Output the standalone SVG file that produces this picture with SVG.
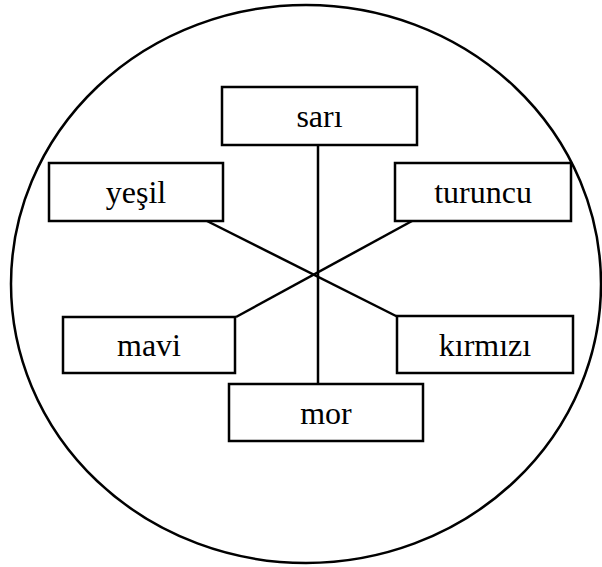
<svg xmlns="http://www.w3.org/2000/svg" width="602" height="567" viewBox="0 0 602 567">
<style>
.box{fill:#fff;stroke:#000;stroke-width:2.5}
.lbl{font-family:"Liberation Serif","Times New Roman",serif;font-size:32px;fill:#000;text-anchor:middle}
.ln{stroke:#000;stroke-width:2.5;fill:none}
</style>
<rect x="0" y="0" width="602" height="567" fill="#fff"/>
<ellipse id="circle" cx="306" cy="284" rx="295" ry="279" fill="none" stroke="#000" stroke-width="2.5"/>
<g id="connectors">
<line class="ln" x1="318" y1="145" x2="318" y2="384"/>
<line class="ln" x1="207" y1="221" x2="398" y2="317"/>
<line class="ln" x1="412" y1="221" x2="236" y2="317"/>
</g>
<g id="sari"><rect class="box" x="222" y="87" width="195" height="58"/><text class="lbl" x="319.5" y="127">sarı</text></g>
<g id="yesil"><rect class="box" x="49" y="163" width="174" height="58"/><text class="lbl" x="136" y="203">yeşil</text></g>
<g id="turuncu"><rect class="box" x="395" y="163" width="176" height="58"/><text class="lbl" x="483" y="203">turuncu</text></g>
<g id="mavi"><rect class="box" x="63" y="317" width="172" height="56"/><text class="lbl" x="149" y="356">mavi</text></g>
<g id="kirmizi"><rect class="box" x="397" y="316" width="176" height="57"/><text class="lbl" x="485" y="356">kırmızı</text></g>
<g id="mor"><rect class="box" x="229" y="384" width="194" height="57"/><text class="lbl" x="326" y="424">mor</text></g>
</svg>
